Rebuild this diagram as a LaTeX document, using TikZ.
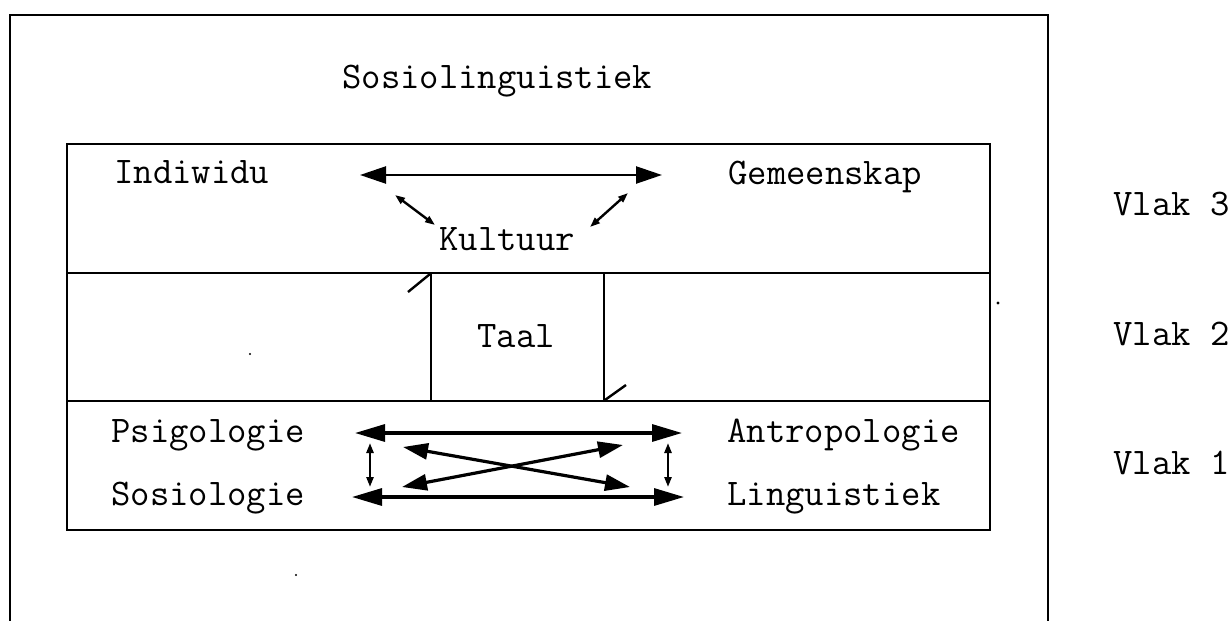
\documentclass[tikz,border=0pt]{standalone}
\usepackage{fontspec}
\usetikzlibrary{arrows.meta}
\begin{document}
\begin{tikzpicture}[x=0.5pt,y=-0.5pt,
  lbl/.style={anchor=base west,inner sep=0pt,
    font=\ttfamily\addfontfeatures{FakeBold=1.6}\fontsize{18.8pt}{22pt}\selectfont},
  frame/.style={line width=1.2pt,line cap=rect},
  bigarrow/.style={line width=1.6pt,{Triangle[length=15pt,width=8.5pt]}-{Triangle[length=15pt,width=8.5pt]}},
  toparrow/.style={line width=1.2pt,{Triangle[length=13pt,width=8.5pt]}-{Triangle[length=13pt,width=8.5pt]}},
  crossarrow/.style={line width=1.6pt,{Triangle[length=12.5pt,width=8pt]}-{Triangle[length=12.5pt,width=8pt]}},
  smallarrow/.style={line width=1.2pt,{Triangle[length=5pt,width=3.5pt]}-{Triangle[length=5pt,width=3.5pt]}},
  tick/.style={line width=1.2pt}]
\useasboundingbox (0,0) rectangle (1232,621);

% outer frame, open at the bottom
\draw[frame] (10,621) -- (10,15) -- (1048,15) -- (1048,621);
\node[lbl] (title) at (342,88) {Sosiolinguistiek};

% the three layers
\draw[frame] (67,144) rectangle (990,530);
\draw[frame] (67,273) -- (990,273);
\draw[frame] (67,401) -- (990,401);
\draw[frame] (431,273) -- (431,401);
\draw[frame] (604,273) -- (604,401);
\draw[tick] (408,292) -- (430,274);
\draw[tick] (605,400) -- (626,385);

% layer 3
\node[lbl] (ind) at (114,183) {Indiwidu};
\node[lbl] (gem) at (728,184) {Gemeenskap};
\node[lbl] (kul) at (439,250) {Kultuur};
\coordinate (indR) at (360,175);
\coordinate (gemL) at (662,175);
\coordinate (indK) at (395,195);
\coordinate (kulL) at (435,225);
\coordinate (gemK) at (628,193);
\coordinate (kulR) at (590,227);
\draw[toparrow] (indR) -- (gemL);
\draw[smallarrow] (indK) -- (kulL);
\draw[smallarrow] (gemK) -- (kulR);

% layer 2
\node[lbl] (taal) at (477,347) {Taal};

% layer 1
\node[lbl] (psi) at (111,442) {Psigologie};
\node[lbl] (sos) at (111,505) {Sosiologie};
\node[lbl] (ant) at (727,442) {Antropologie};
\node[lbl] (lin) at (727,505) {Linguistiek};
\coordinate (psiR) at (355,433);
\coordinate (antL) at (682,433);
\coordinate (sosR) at (352,497);
\coordinate (linL) at (684,497);
\coordinate (psiX) at (403,447);
\coordinate (linX) at (630,487);
\coordinate (sosX) at (402,487);
\coordinate (antX) at (623,445);
\coordinate (psiV) at (370,443);
\coordinate (sosV) at (370,487);
\coordinate (antV) at (668,443);
\coordinate (linV) at (668,487);
\draw[bigarrow] (psiR) -- (antL);
\draw[bigarrow] (sosR) -- (linL);
\draw[crossarrow] (psiX) -- (linX);
\draw[crossarrow] (sosX) -- (antX);
\draw[smallarrow] (psiV) -- (sosV);
\draw[smallarrow] (antV) -- (linV);

% layer labels
\node[lbl] (v3) at (1113,215) {Vlak 3};
\node[lbl] (v2) at (1113,345) {Vlak 2};
\node[lbl] (v1) at (1113,474) {Vlak 1};

% specks
\fill (998,303) circle (1.6);
\fill (250,354) circle (1.2);
\fill (296,575) circle (1.2);
\end{tikzpicture}
\end{document}
